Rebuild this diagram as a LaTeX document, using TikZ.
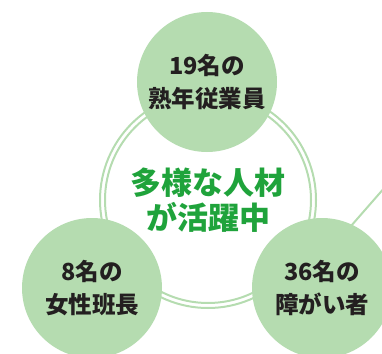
\documentclass[tikz,border=0pt]{standalone}
\usepackage{fontspec}
\newfontfamily\jpfont{Noto Sans CJK JP}[BoldFont={* Black}]
\usetikzlibrary{positioning}
\definecolor{leaf}{HTML}{B5DCB0}
\definecolor{grass}{HTML}{1FA33B}
\definecolor{ink}{HTML}{231F20}

\begin{document}
\begin{tikzpicture}[
    x=1pt, y=-1pt,
    member/.style={circle, fill=leaf, minimum size=140pt, inner sep=0pt, align=center, font=\jpfont\bfseries\fontsize{23.5}{33}\selectfont, text=ink},
    centre_text/.style={align=center, font=\jpfont\bfseries\fontsize{31}{35}\selectfont, text=grass},
    ring/.style={draw=leaf, line width=2pt}
]
\useasboundingbox (0,0) rectangle (382,353);
\clip (0,0) rectangle (382,353);

% Double ring in the middle
\coordinate (hub) at (208,200);
\draw[ring] (hub) circle (108);
\draw[ring] (hub) circle (103);

% Connector leaving to the right
\coordinate (away) at (400,170);
\coordinate (base) at (330,250);
\draw[draw=leaf, line width=2pt] (base) -- (away);

% Member circles
\node[member] (senior) at (207,82) {19名の\\熟年従業員};
\node[member] (leader) at (92,288) {8名の\\女性班長};
\node[member] (disabled) at (322,288) {36名の\\障がい者};

% Centre message
\node[centre_text] (message) at (208,200) {多様な人材\\が活躍中};

\end{tikzpicture}
\end{document}
